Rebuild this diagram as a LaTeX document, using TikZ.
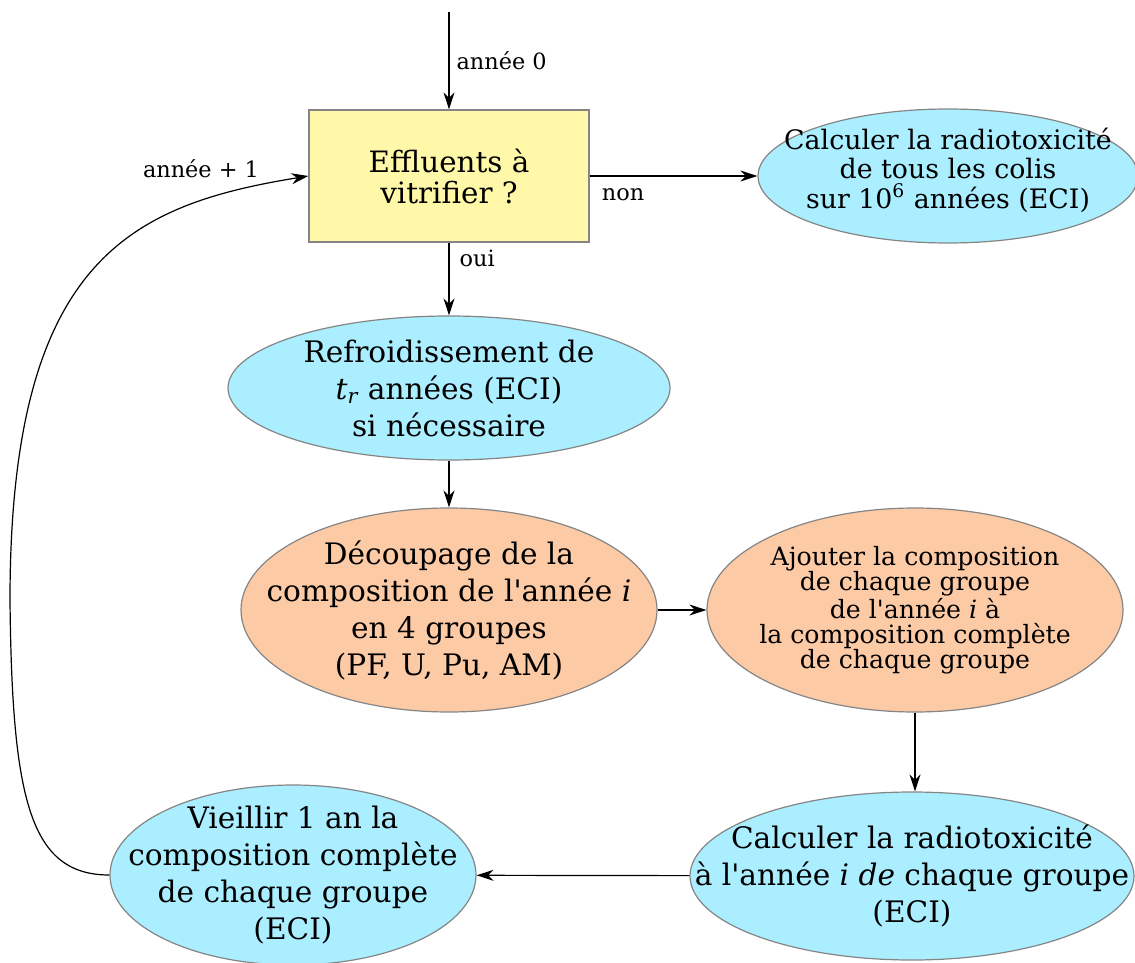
\documentclass[tikz,border=0pt]{standalone}
\usepackage{fontspec}
\setmainfont{DejaVu Serif}
\usetikzlibrary{arrows.meta,shapes.geometric}
\definecolor{paleyellow}{HTML}{FFF8A8}
\definecolor{skyblue}{HTML}{AAEEFF}
\definecolor{peach}{HTML}{FDCAA6}
\definecolor{edgegray}{HTML}{858585}

\begin{document}
\begin{tikzpicture}[
    x=0.5pt, y=-0.5pt,
    every node/.style={inner sep=0pt, align=center},
    bigtext/.style={font=\fontsize{14.8}{18.5}\selectfont},
    midtext/.style={font=\fontsize{13.4}{14.7}\selectfont},
    smalltext/.style={font=\fontsize{12.6}{12.5}\selectfont},
    decision/.style={rectangle, draw=edgegray, fill=paleyellow, line width=0.6pt, font=\fontsize{14.7}{15.5}\selectfont},
    bluestep/.style={ellipse, draw=edgegray, fill=skyblue, line width=0.6pt},
    peachstep/.style={ellipse, draw=edgegray, fill=peach, line width=0.6pt},
    flow/.style={-{Stealth[length=8.5pt, width=5.5pt]}, line width=0.6pt},
    lbl/.style={font=\fontsize{11.2}{12}\selectfont}
]
    \useasboundingbox (0,0) rectangle (1135,963);

    % Decision box at the top
    \node[decision, minimum width=140pt, minimum height=66pt] (vitrif) at (449,176) {Effluents à\\vitrifier ?};

    % Final computation when nothing is left
    \node[bluestep, minimum width=190pt, minimum height=67pt,
        label={[midtext, yshift=3pt]center:{Calculer la radiotoxicité\\de tous les colis\\sur 10\textsuperscript{6} années (ECI)}}] (toxall) at (948,176) {};

    % Main loop steps
    \node[bluestep, minimum width=221pt, minimum height=72pt,
        label={[bigtext]center:{Refroidissement de\\\textit{t\textsubscript{r}} années (ECI)\\si nécessaire}}] (cooling) at (449,388) {};
    \node[peachstep, minimum width=208pt, minimum height=102pt,
        label={[bigtext]center:{Découpage de la\\composition de l\textquotesingle année \textit{i}\\en 4 groupes\\(PF, U, Pu, AM)}}] (split) at (449,610) {};
    \node[peachstep, minimum width=208pt, minimum height=102pt,
        label={[smalltext]center:{Ajouter la composition\\de chaque groupe\\de l\textquotesingle année \textit{i} à\\la composition complète\\de chaque groupe}}] (addup) at (915,610) {};
    \node[bluestep, minimum width=222pt, minimum height=84pt,
        label={[bigtext]center:{Calculer la radiotoxicité\\à l\textquotesingle année \textit{i de} chaque groupe\\(ECI)}}] (toxyear) at (912,876) {};
    \node[bluestep, minimum width=183pt, minimum height=90pt,
        label={[bigtext]center:{Vieillir 1 an la\\composition complète\\de chaque groupe\\(ECI)}}] (aging) at (293,875) {};

    % Entry point and loop-back points
    \coordinate (entry) at (449,12);
    \coordinate (loopbend) at (10,600);
    \node[lbl] (nextyear) at (201,169) {année + 1};

    % Connectors
    \draw[flow] (entry) -- node[right=3.5pt, lbl] {année 0} (vitrif);
    \draw[flow] (vitrif) -- node[pos=0.2, below=6pt, lbl] {non} (toxall);
    \draw[flow] (vitrif) -- node[pos=0.22, right=5pt, lbl] {oui} (cooling);
    \draw[flow] (cooling) -- (split);
    \draw[flow] (split) -- (addup);
    \draw[flow] (addup.south) -- (addup.south |- toxyear.north);
    \draw[flow] (toxyear) -- (aging);
    \draw[flow] (aging.west) .. controls (30,875) and (12,800) .. (loopbend)
        .. controls (10,260) and (130,205) .. (vitrif.west);
\end{tikzpicture}
\end{document}
